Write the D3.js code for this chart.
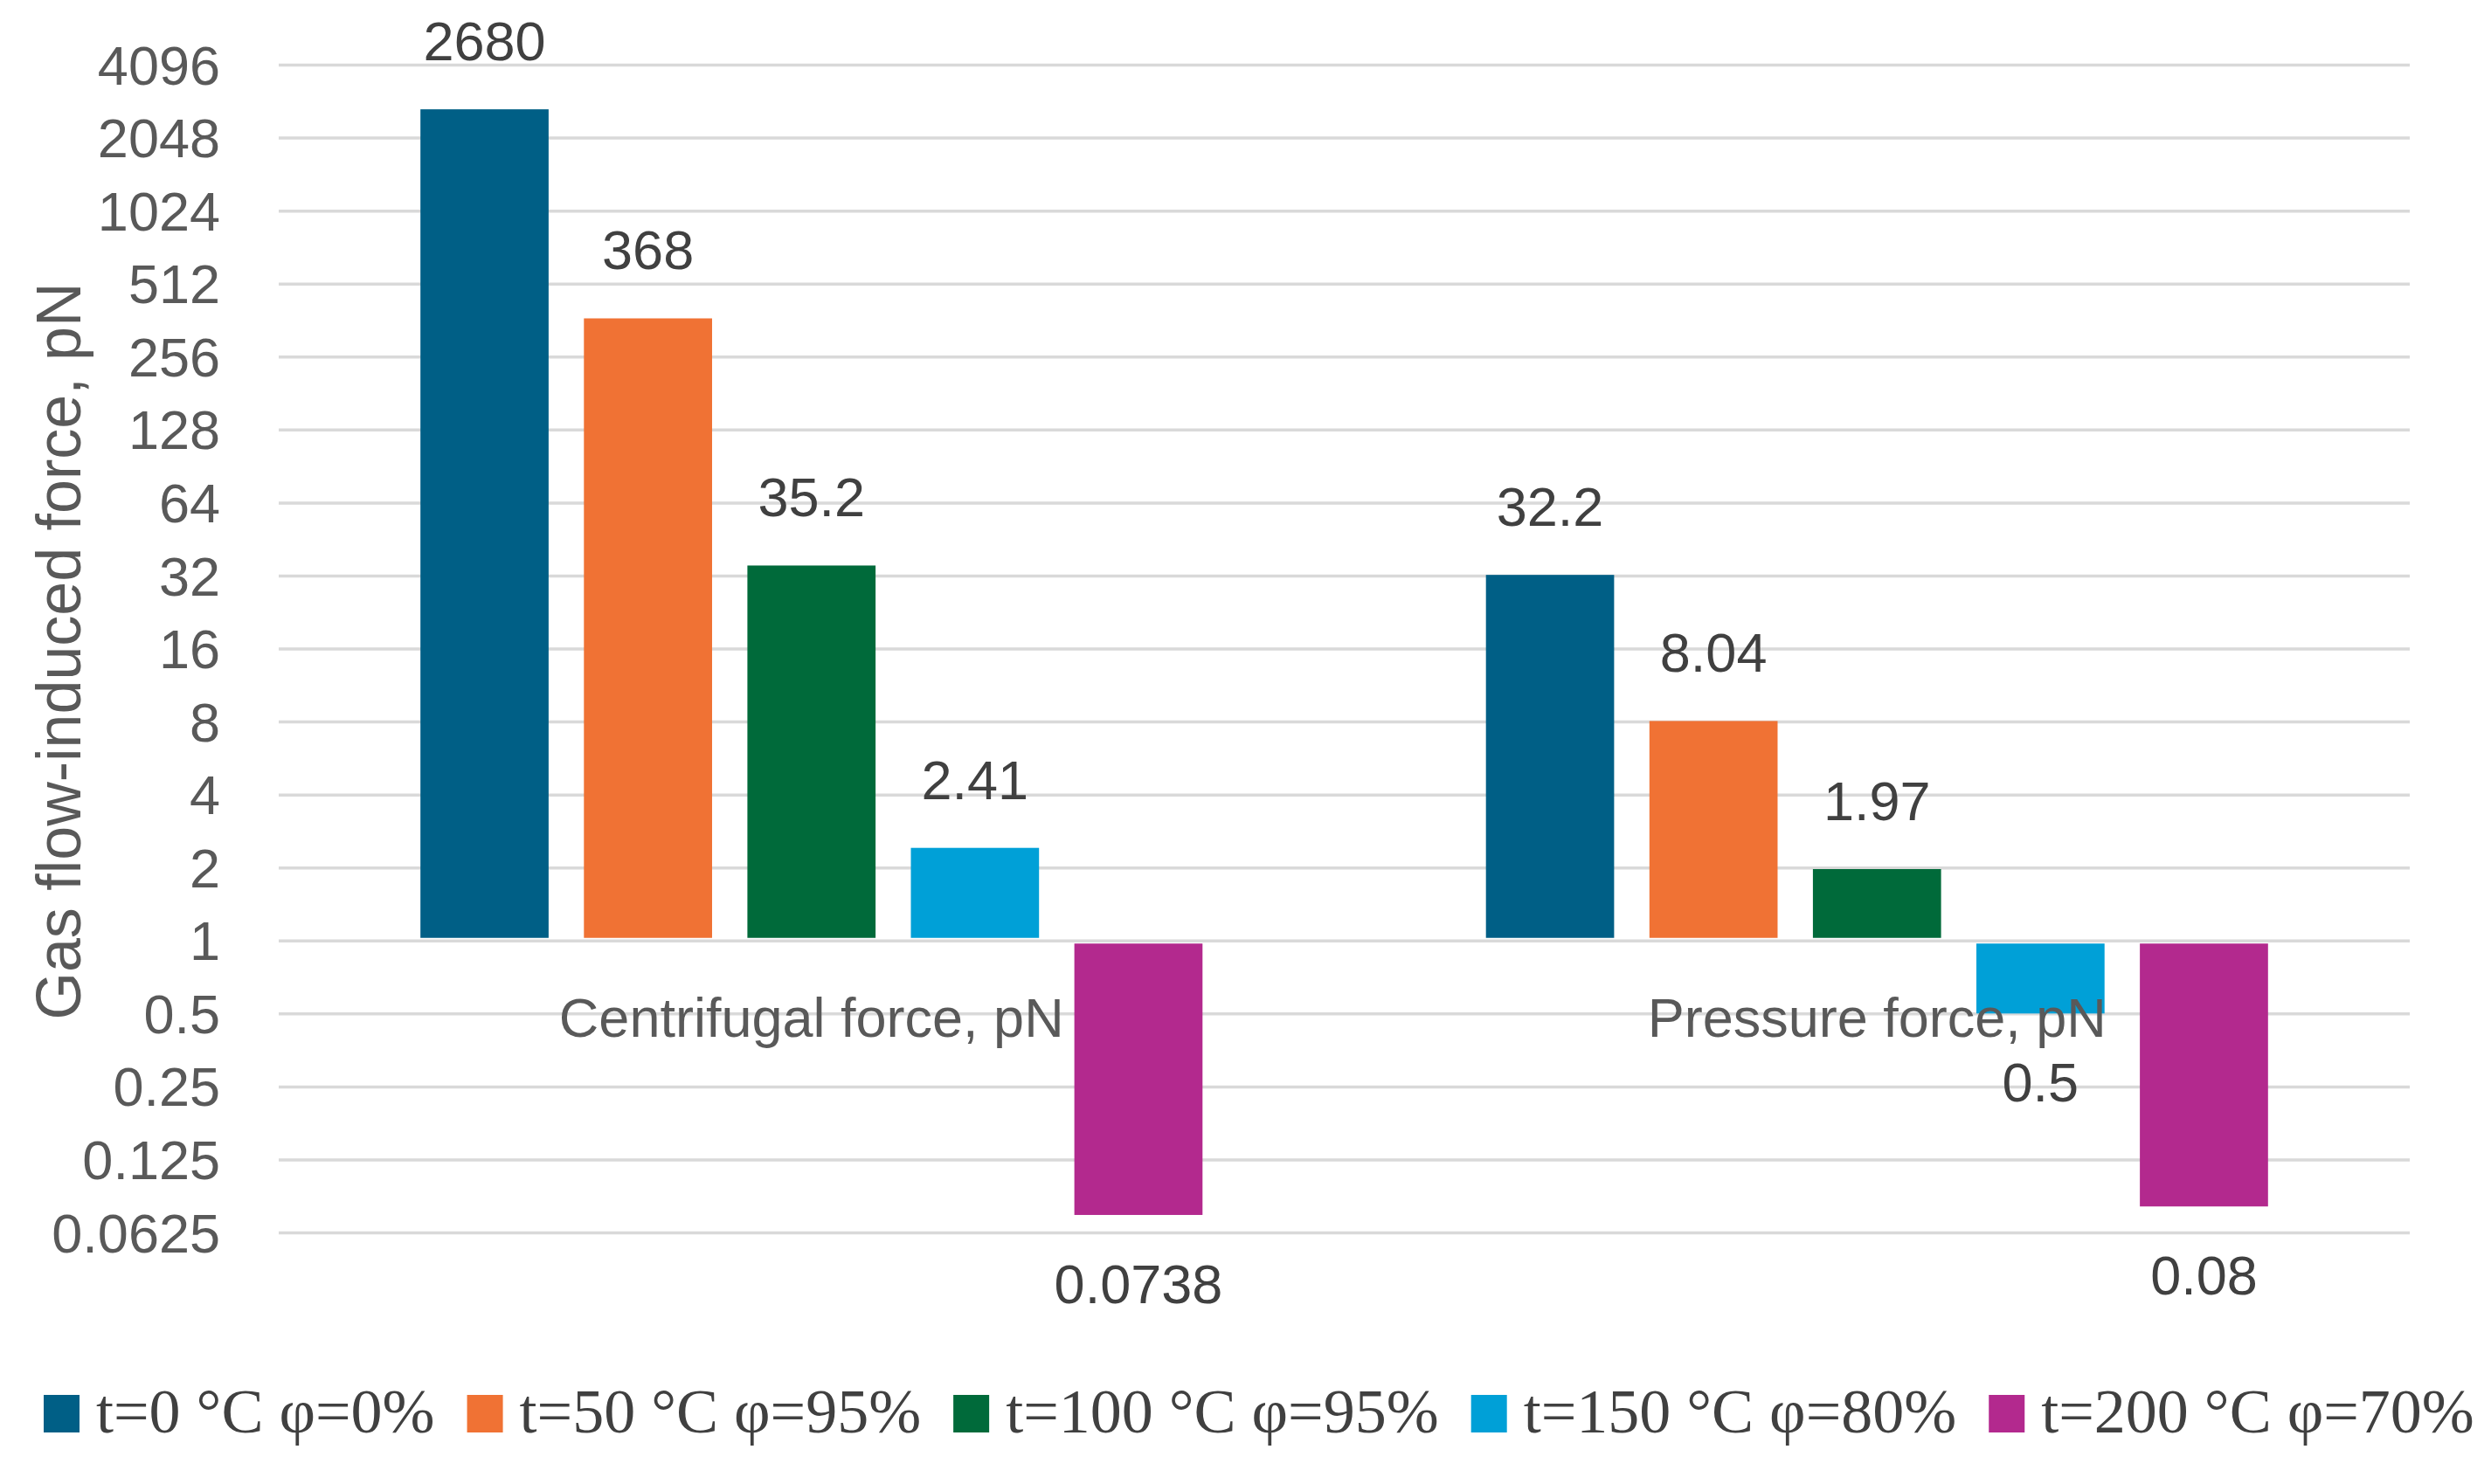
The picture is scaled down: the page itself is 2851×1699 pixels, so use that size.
<!DOCTYPE html>
<html>
<head>
<meta charset="utf-8">
<script src="https://cdn.jsdelivr.net/npm/d3@7"></script>
<style>
  body { margin: 0; background: #fff; }
  svg { display: block; }
</style>
</head>
<body>
<svg id="chart" width="2851" height="1699"></svg>
<script>
// chart values
const categories = ["Centrifugal force, pN", "Pressure force, pN"];
const seriesNames = ["t=0 °C φ=0%", "t=50 °C φ=95%", "t=100 °C φ=95%", "t=150 °C φ=80%", "t=200 °C φ=70%"];
const centrifugalForce = [2680, 368, 35.2, 2.41, 0.0738];
const pressureForce = [32.2, 8.04, 1.97, 0.5, 0.08];
const yTicks = [0.0625, 0.125, 0.25, 0.5, 1, 2, 4, 8, 16, 32, 64, 128, 256, 512, 1024, 2048, 4096];
const seriesColors = ["#005F86", "#F07234", "#006A3A", "#00A0D7", "#B3298E"];

const W = 2851, H = 1699;
const plotLeft = 319, plotRight = 2758, plotTop = 74, plotBottom = 1411;
const sans = "'Liberation Sans', Arial, sans-serif";

const svg = d3.select("#chart");
svg.append("rect").attr("width", W).attr("height", H).attr("fill", "#fff");

const x0 = d3.scaleBand().domain(categories).range([plotLeft, plotRight])
    .paddingInner(0.266).paddingOuter(0.133);
const x1 = d3.scaleBand().domain(seriesNames).range([0, x0.bandwidth()])
    .paddingInner(0.216).paddingOuter(0);
const y = d3.scaleLog().base(2).domain([0.0625, 4096]).range([plotBottom, plotTop]);
const color = d3.scaleOrdinal().domain(seriesNames).range(seriesColors);

// gridlines + tick labels
const yAxis = svg.append("g")
    .attr("transform", `translate(${plotLeft},0)`)
    .call(d3.axisLeft(y).tickValues(yTicks).tickSize(-(plotRight - plotLeft)).tickPadding(67)
        .tickFormat(d => String(d)));
yAxis.select(".domain").remove();
yAxis.selectAll(".tick line").attr("stroke", "#d9d9d9").attr("stroke-width", 3.5);
yAxis.selectAll(".tick text")
    .attr("font-family", sans)
    .attr("font-size", 63).attr("fill", "#595959").attr("dy", "0.35em");

// axis title
svg.append("text")
    .attr("transform", `translate(92,${(plotTop + plotBottom) / 2 + 3}) rotate(-90)`)
    .attr("text-anchor", "middle")
    .attr("font-family", sans)
    .attr("font-size", 72).attr("fill", "#595959")
    .attr("textLength", 844).attr("lengthAdjust", "spacingAndGlyphs")
    .text("Gas flow-induced force, pN");

const rows = categories.map((c, i) => ({
  category: c,
  values: seriesNames.map((s, j) => ({ series: s, value: (i == 0 ? centrifugalForce : pressureForce)[j] }))
}));

const base = y(1);
const groups = svg.selectAll("g.group").data(rows).enter().append("g")
    .attr("class", "group")
    .attr("transform", d => `translate(${x0(d.category)},0)`);

groups.selectAll("rect").data(d => d.values).enter().append("rect")
    .attr("x", d => x1(d.series))
    .attr("width", x1.bandwidth())
    .attr("y", d => d.value >= 1 ? y(d.value) : base + 3.5)
    .attr("height", d => d.value >= 1 ? base - 3 - y(d.value) : y(d.value) - base - 3.5)
    .attr("fill", d => color(d.series));

groups.selectAll("text.val").data(d => d.values).enter().append("text")
    .attr("class", "val")
    .attr("x", d => x1(d.series) + x1.bandwidth() / 2)
    .attr("y", d => d.value >= 1 ? y(d.value) - 56 : y(d.value) + 101)
    .attr("text-anchor", "middle")
    .attr("font-family", sans)
    .attr("font-size", 63).attr("fill", "#404040")
    .text(d => String(d.value));

// category labels sit below the axis crossing at 1
svg.selectAll("text.cat").data(categories).enter().append("text")
    .attr("class", "cat")
    .attr("x", d => x0(d) + x0.bandwidth() / 2)
    .attr("y", base + 110)
    .attr("text-anchor", "middle")
    .attr("font-family", sans)
    .attr("font-size", 63).attr("fill", "#595959")
    .text(d => d);

// legend
const legend = svg.append("g").attr("transform", "translate(50,1640)");
let lx = 0;
seriesNames.forEach((s, i) => {
  const item = legend.append("g").attr("transform", `translate(${lx},0)`);
  item.append("rect").attr("x", 0).attr("y", -43).attr("width", 41).attr("height", 43)
      .attr("fill", color(s));
  const t = item.append("text").attr("x", 60).attr("y", 0)
      .attr("font-family", "'Liberation Serif', 'Times New Roman', serif")
      .attr("font-size", 72).attr("fill", "#404040")
      .text(s);
  lx += 60 + t.node().getComputedTextLength() + 37;
});
</script>
</body>
</html>
